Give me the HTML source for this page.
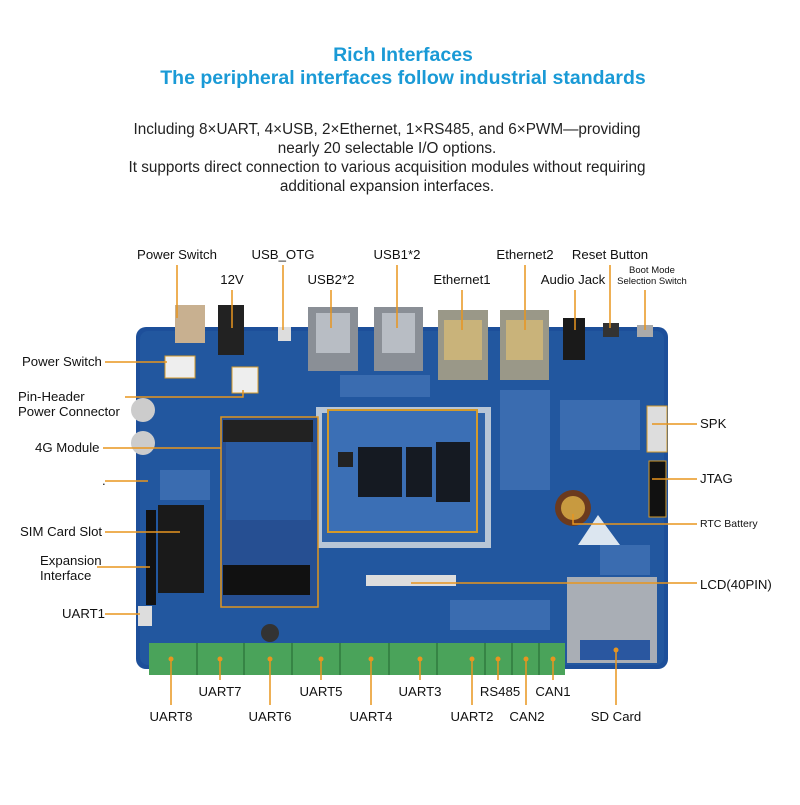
<!DOCTYPE html>
<html><head><style>
body{margin:0;background:#fff;width:800px;height:800px;overflow:hidden;font-family:"Liberation Sans",sans-serif}
</style></head><body>
<svg width="800" height="800" xmlns="http://www.w3.org/2000/svg" font-family="Liberation Sans, sans-serif">
<text x="403" y="61" text-anchor="middle" font-size="19.5" font-weight="bold" fill="#1a9ad6">Rich Interfaces</text>
<text x="403" y="84" text-anchor="middle" font-size="19.5" font-weight="bold" fill="#1a9ad6">The peripheral interfaces follow industrial standards</text>
<g font-size="15.3" fill="#222" text-anchor="middle">
<text x="387" y="134">Including 8×UART, 4×USB, 2×Ethernet, 1×RS485, and 6×PWM—providing</text>
<text x="387" y="153">nearly 20 selectable I/O options.</text>
<text x="387" y="172">It supports direct connection to various acquisition modules without requiring</text>
<text x="387" y="191">additional expansion interfaces.</text>
</g>
<!-- board -->
<rect x="136" y="327" width="532" height="342" rx="10" fill="#1d4f9a"/>
<rect x="140" y="331" width="524" height="334" rx="8" fill="#22579f"/>
<g fill="#3a6cb0">
<rect x="340" y="375" width="90" height="22"/><rect x="500" y="390" width="50" height="100"/><rect x="560" y="400" width="80" height="50"/><rect x="450" y="600" width="100" height="30"/><rect x="600" y="545" width="50" height="30"/><rect x="160" y="470" width="50" height="30"/>
</g>
<!-- frame and module -->
<rect x="316" y="407" width="175" height="141" fill="#b8c6d6"/>
<rect x="322" y="413" width="163" height="129" fill="#2f63a8"/>
<rect x="328" y="410" width="149" height="122" fill="#3b6fb5" stroke="#d49a2a" stroke-width="2"/>
<rect x="358" y="447" width="44" height="50" fill="#151a22"/>
<rect x="406" y="447" width="26" height="50" fill="#151a22"/>
<rect x="436" y="442" width="34" height="60" fill="#151a22"/>
<rect x="338" y="452" width="15" height="15" fill="#222"/>
<!-- 4G module -->
<rect x="221" y="417" width="97" height="190" fill="#264f92" stroke="#e0951f" stroke-width="1.5"/>
<rect x="226" y="430" width="85" height="90" fill="#2a5ba2"/>
<rect x="223" y="565" width="87" height="30" fill="#111"/>
<rect x="223" y="420" width="90" height="22" fill="#222"/>
<!-- SIM, header -->
<rect x="158" y="505" width="46" height="88" fill="#1a1a1a"/>
<rect x="146" y="510" width="10" height="95" fill="#111"/>
<!-- caps -->
<circle cx="143" cy="410" r="12" fill="#ccc"/><circle cx="143" cy="443" r="12" fill="#ccc"/>
<circle cx="270" cy="633" r="9" fill="#333"/>
<!-- top connectors -->
<rect x="175" y="305" width="30" height="38" fill="#c8b090"/>
<rect x="218" y="305" width="26" height="50" fill="#222"/>
<rect x="278" y="327" width="13" height="14" fill="#ddd"/>
<rect x="308" y="307" width="50" height="64" fill="#8a8f96"/><rect x="316" y="313" width="34" height="40" fill="#b8bdc4"/>
<rect x="374" y="307" width="49" height="64" fill="#8a8f96"/><rect x="382" y="313" width="33" height="40" fill="#b8bdc4"/>
<rect x="438" y="310" width="50" height="70" fill="#9a9888"/><rect x="444" y="320" width="38" height="40" fill="#c9b37a"/>
<rect x="500" y="310" width="49" height="70" fill="#9a9888"/><rect x="506" y="320" width="37" height="40" fill="#c9b37a"/>
<rect x="563" y="318" width="22" height="42" fill="#1a1a1a"/>
<rect x="603" y="323" width="16" height="14" fill="#333"/>
<rect x="637" y="325" width="16" height="12" fill="#aaa"/>
<rect x="165" y="356" width="30" height="22" fill="#eee" stroke="#d49a2a"/>
<rect x="232" y="367" width="26" height="26" fill="#eee" stroke="#d49a2a"/>
<rect x="647" y="406" width="20" height="46" fill="#ddd" stroke="#d49a2a"/>
<rect x="649" y="461" width="17" height="56" fill="#111" stroke="#d49a2a"/>
<circle cx="573" cy="508" r="18" fill="#6b3a1e"/><circle cx="573" cy="508" r="12" fill="#c89a40"/>
<polygon points="578,545 598,515 620,545" fill="#dce6f0"/>
<rect x="366" y="575" width="90" height="11" fill="#ddd"/>
<rect x="138" y="606" width="14" height="20" fill="#ddd"/>
<!-- SD card -->
<rect x="567" y="577" width="90" height="86" fill="#a9aeb5"/><rect x="580" y="640" width="70" height="20" fill="#2a57a0"/>
<!-- terminals -->
<rect x="149" y="643" width="416" height="32" fill="#4aa35a"/>
<g stroke="#2f7a3e" stroke-width="1.5">
<line x1="197" y1="643" x2="197" y2="675"/><line x1="244" y1="643" x2="244" y2="675"/><line x1="292" y1="643" x2="292" y2="675"/><line x1="340" y1="643" x2="340" y2="675"/><line x1="389" y1="643" x2="389" y2="675"/><line x1="437" y1="643" x2="437" y2="675"/><line x1="485" y1="643" x2="485" y2="675"/><line x1="512" y1="643" x2="512" y2="675"/><line x1="539" y1="643" x2="539" y2="675"/>
</g>
<!-- leader lines -->
<g stroke="#e8951f" stroke-width="1.5" fill="none">
<path d="M177 265V318M232 290V328M283 265V330M331 290V328M397 265V328M462 290V330M525 265V330M575 290V330M610 265V328M645 290V330"/>
<path d="M105 362H167M125 397H243V390M103 448H221M105 481H148M105 532H180M97 567H150M105 614H140"/>
<path d="M652 424H697M652 479H697M573 514V524H697M411 583H697"/>
<path d="M171 659V705M220 659V680M270 659V705M321 659V680M371 659V705M420 659V680M472 659V705M498 659V680M526 659V705M553 659V680M616 650V705"/>
</g>
<g fill="#e8951f">
<circle cx="171" cy="659" r="2.5"/><circle cx="220" cy="659" r="2.5"/><circle cx="270" cy="659" r="2.5"/><circle cx="321" cy="659" r="2.5"/><circle cx="371" cy="659" r="2.5"/><circle cx="420" cy="659" r="2.5"/><circle cx="472" cy="659" r="2.5"/><circle cx="498" cy="659" r="2.5"/><circle cx="526" cy="659" r="2.5"/><circle cx="553" cy="659" r="2.5"/><circle cx="616" cy="650" r="2.5"/>
</g>
<g font-size="13.2" fill="#111">
<text x="177" y="259" text-anchor="middle">Power Switch</text>
<text x="232" y="284" text-anchor="middle">12V</text>
<text x="283" y="259" text-anchor="middle">USB_OTG</text>
<text x="331" y="284" text-anchor="middle">USB2*2</text>
<text x="397" y="259" text-anchor="middle">USB1*2</text>
<text x="462" y="284" text-anchor="middle">Ethernet1</text>
<text x="525" y="259" text-anchor="middle">Ethernet2</text>
<text x="573" y="284" text-anchor="middle">Audio Jack</text>
<text x="610" y="259" text-anchor="middle">Reset Button</text>
<text x="652" y="273" text-anchor="middle" font-size="9.5">Boot Mode</text>
<text x="652" y="284" text-anchor="middle" font-size="9.5">Selection Switch</text>
<text x="22" y="366">Power Switch</text>
<text x="18" y="401">Pin-Header</text>
<text x="18" y="416">Power Connector</text>
<text x="35" y="452">4G Module</text>
<text x="102" y="485">.</text>
<text x="20" y="536">SIM Card Slot</text>
<text x="40" y="565">Expansion</text>
<text x="40" y="580">Interface</text>
<text x="62" y="618">UART1</text>
<text x="700" y="428">SPK</text>
<text x="700" y="483">JTAG</text>
<text x="700" y="527" font-size="10.5">RTC Battery</text>
<text x="700" y="589">LCD(40PIN)</text>
<g text-anchor="middle">
<text x="171" y="721">UART8</text><text x="220" y="696">UART7</text><text x="270" y="721">UART6</text><text x="321" y="696">UART5</text><text x="371" y="721">UART4</text><text x="420" y="696">UART3</text><text x="472" y="721">UART2</text><text x="500" y="696">RS485</text><text x="527" y="721">CAN2</text><text x="553" y="696">CAN1</text><text x="616" y="721">SD Card</text>
</g>
</g>
</svg>
</body></html>
